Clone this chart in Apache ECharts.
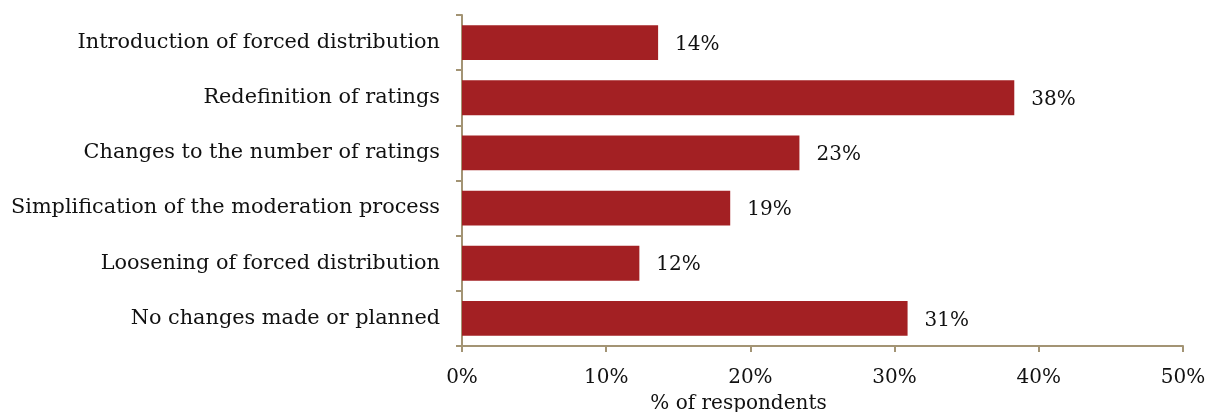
<!DOCTYPE html>
<html>
<head>
<meta charset="utf-8">
<script src="https://cdn.jsdelivr.net/npm/echarts@6/dist/echarts.min.js"></script>
<style>
  html, body { margin: 0; padding: 0; background: #ffffff; }
  #chart { width: 1216px; height: 412px; }
</style>
</head>
<body>
<div id="chart"></div>
<script>
// Survey responses: changes to performance ratings (top to bottom)
const categories = [
  'Introduction of forced distribution',
  'Redefinition of ratings',
  'Changes to the number of ratings',
  'Simplification of the moderation process',
  'Loosening of forced distribution',
  'No changes made or planned'
];
const shares = [13.6, 38.3, 23.4, 18.6, 12.3, 30.9];
const axisTicks = [0, 10, 20, 30, 40, 50];

const FONT = 'DejaVu Serif';
const AXIS_COLOR = '#a39474';
const BAR_COLOR = '#a32023';

const chart = echarts.init(document.getElementById('chart'), null, { renderer: 'canvas' });

chart.setOption({
  animation: false,
  grid: { left: 462, right: 33, top: 15, bottom: 66, containLabel: false, outerBoundsMode: 'none' },
  xAxis: {
    type: 'value',
    min: axisTicks[0],
    max: axisTicks[axisTicks.length - 1],
    interval: axisTicks[1] - axisTicks[0],
    name: '% of respondents',
    nameLocation: 'middle',
    nameGap: 48,
    nameTextStyle: { fontFamily: FONT, fontSize: 20, color: '#111', padding: [0, 168, 0, 0] },
    axisLine: { show: true, lineStyle: { color: AXIS_COLOR, width: 2 } },
    axisTick: { show: true, length: 6, lineStyle: { color: AXIS_COLOR, width: 2 } },
    axisLabel: { fontFamily: FONT, fontSize: 20, color: '#111', margin: 22, formatter: v => v + '%' },
    splitLine: { show: false }
  },
  yAxis: {
    type: 'category',
    data: categories,
    inverse: true,
    axisLine: { show: true, lineStyle: { color: AXIS_COLOR, width: 2 } },
    axisTick: { show: true, length: 6, lineStyle: { color: AXIS_COLOR, width: 2 } },
    axisLabel: { fontFamily: FONT, fontSize: 20.8, color: '#111', margin: 22 }
  },
  series: [{
    type: 'bar',
    data: shares,
    barWidth: '63%',
    itemStyle: { color: BAR_COLOR },
    label: {
      show: true,
      position: 'right',
      distance: 17,
      offset: [0, 2],
      fontFamily: FONT,
      fontSize: 20,
      color: '#111',
      formatter: p => Math.round(p.value) + '%'
    }
  }]
});
</script>
</body>
</html>
